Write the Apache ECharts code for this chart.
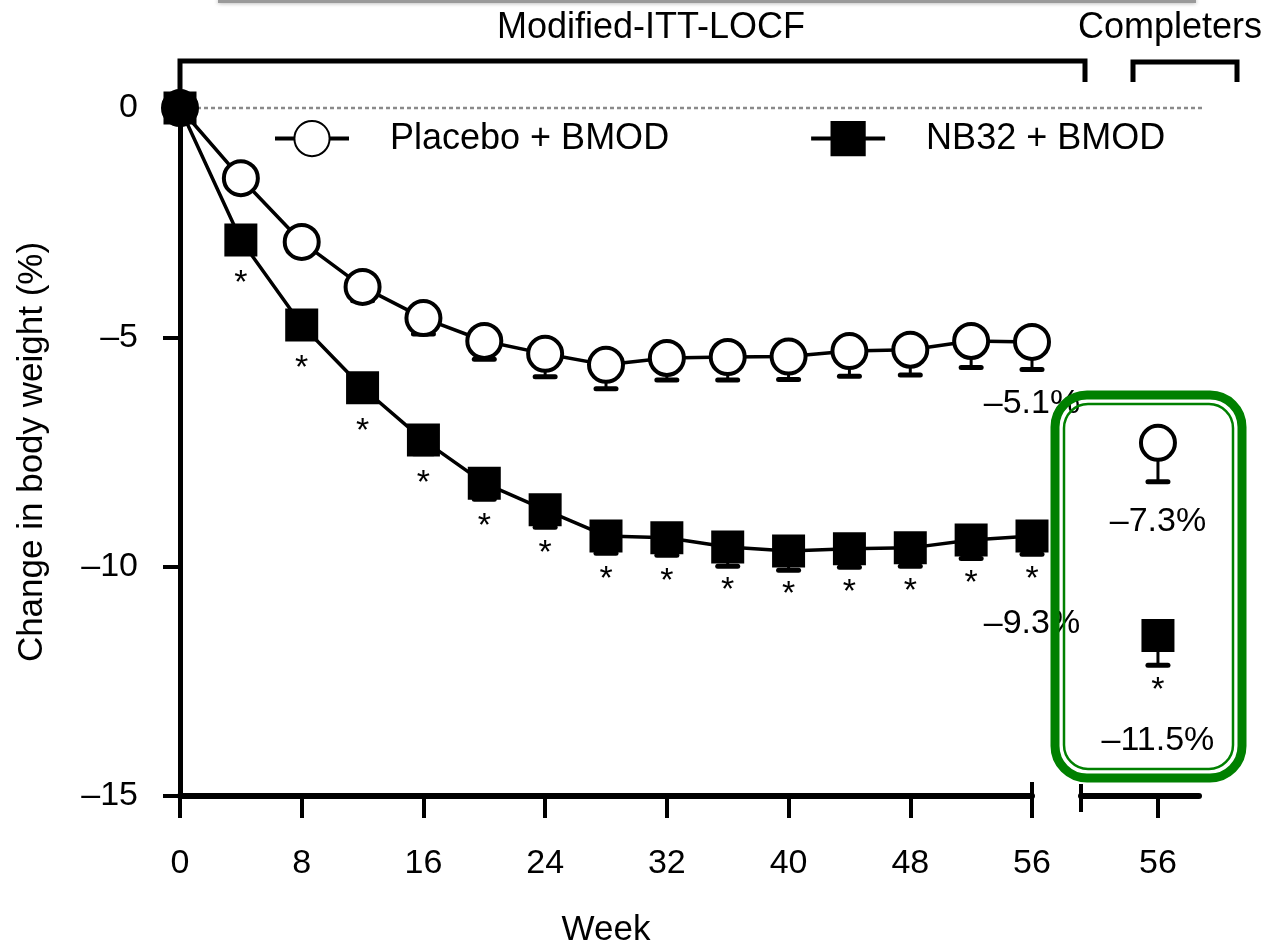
<!DOCTYPE html>
<html><head><meta charset="utf-8">
<script src="https://cdn.jsdelivr.net/npm/echarts@6/dist/echarts.min.js"></script>
<style>html,body{margin:0;padding:0;background:#fff}#c{width:1274px;height:948px}</style>
</head><body><div id="c"></div>
<script>
// ---------- data ----------
const weeks = [0, 4, 8, 12, 16, 20, 24, 28, 32, 36, 40, 44, 48, 52, 56];
const placebo = [0, -1.53, -2.92, -3.90, -4.58, -5.08, -5.36, -5.60, -5.45, -5.43, -5.42, -5.30, -5.27, -5.08, -5.10];
const placeboErr = [0, 0.2, 0.25, 0.3, 0.35, 0.4, 0.5, 0.52, 0.48, 0.5, 0.5, 0.55, 0.55, 0.58, 0.6];
const nb32 = [0, -2.88, -4.73, -6.10, -7.24, -8.18, -8.76, -9.33, -9.37, -9.57, -9.66, -9.61, -9.59, -9.42, -9.33];
const nb32Err = [0, 0.2, 0.25, 0.3, 0.3, 0.35, 0.38, 0.38, 0.38, 0.42, 0.42, 0.4, 0.4, 0.4, 0.4];
const nb32Significant = [false, true, true, true, true, true, true, true, true, true, true, true, true, true, true];
const endLabels = { placebo: '–5.1%', nb32: '–9.3%' };
const completerWeek = 56;
const completerPlacebo = -7.3, completerPlaceboErr = 0.85, completerPlaceboLabel = '–7.3%';
const completerNb32 = -11.5, completerNb32Err = 0.65, completerNb32Label = '–11.5%';
const xTicks = [0, 8, 16, 24, 32, 40, 48, 56];
const yTicks = [-15, -10, -5, 0];
const seriesNames = ['Placebo + BMOD', 'NB32 + BMOD'];
const groupTitles = ['Modified-ITT-LOCF', 'Completers'];

// ---------- style ----------
const FONT = "'Liberation Sans', Arial, Helvetica, sans-serif";
const fmtNeg = v => (v < 0 ? '–' + Math.abs(v) : String(v));
const chart = echarts.init(document.getElementById('c'), null, { renderer: 'canvas' });

const G = { left: 180, top: 108, width: 852, height: 688 };
const G2 = { left: 1081, top: 108, width: 118, height: 688 };

function errSeries(xi, xs, vals, errs) {
  return {
    type: 'custom', xAxisIndex: xi, yAxisIndex: xi, z: 1, silent: true,
    renderItem: (params, api) => {
      const x = api.value(0), y = api.value(1), e = api.value(2);
      if (!e) return { type: 'group', children: [] };
      const p0 = api.coord([x, y]); const p1 = api.coord([x, y - e]);
      return { type: 'group', children: [
        { type: 'line', shape: { x1: p0[0], y1: p0[1], x2: p1[0], y2: p1[1] }, style: { stroke: '#000', lineWidth: 3 } },
        { type: 'line', shape: { x1: p1[0] - 10, y1: p1[1], x2: p1[0] + 10, y2: p1[1] }, style: { stroke: '#000', lineWidth: 5, lineCap: 'round' } }
      ] };
    },
    data: vals.map((v, i) => [xs[i], v, errs[i]])
  };
}

const circleStyle = { color: '#fff', borderColor: '#000', borderWidth: 4, opacity: 1 };
const squareStyle = { color: '#000', borderColor: '#000', borderWidth: 0, opacity: 1 };
const lastIdx = weeks.length - 1;
const richStar = { fontSize: 34, lineHeight: 30, fontFamily: FONT, color: '#000' };

const option = {
  animation: false,
  backgroundColor: '#fff',
  textStyle: { fontFamily: FONT, color: '#000' },
  grid: [
    { left: G.left, top: G.top, width: G.width, height: G.height, outerBoundsMode: 'none', containLabel: false },
    { left: G2.left, top: G2.top, width: G2.width, height: G2.height, outerBoundsMode: 'none', containLabel: false }
  ],
  legend: {
    data: seriesNames, left: 273, top: 120, padding: 0, itemWidth: 74, itemHeight: 44, itemGap: 140,
    textStyle: { fontFamily: FONT, fontSize: 36, color: '#000', padding: [0, 0, 0, 36] },
    lineStyle: { width: 4 },
    selectedMode: false
  },
  xAxis: [
    {
      gridIndex: 0, type: 'value', min: 0, max: 56, interval: 8,
      axisLine: { onZero: false, lineStyle: { color: '#000', width: 6 } },
      axisTick: { length: 22, lineStyle: { color: '#000', width: 4 } },
      axisLabel: { margin: 51, fontSize: 34, color: '#000', fontFamily: FONT },
      splitLine: { show: false },
      name: 'Week', nameLocation: 'middle', nameGap: 117,
      nameTextStyle: { fontSize: 35, color: '#000', fontFamily: FONT }
    },
    {
      gridIndex: 1, type: 'value', min: 48.5, max: 60,
      axisLine: { onZero: false, lineStyle: { color: '#000', width: 6 } },
      axisTick: { length: 22, lineStyle: { color: '#000', width: 4 }, customValues: [completerWeek] },
      axisLabel: { margin: 51, fontSize: 34, color: '#000', fontFamily: FONT, customValues: [completerWeek] },
      splitLine: { show: false }
    }
  ],
  yAxis: [
    {
      gridIndex: 0, type: 'value', min: -15, max: 0, interval: 5,
      axisLine: { onZero: false, lineStyle: { color: '#000', width: 5 } },
      axisTick: { length: 17, lineStyle: { color: '#000', width: 4 } },
      axisLabel: { margin: 42, fontSize: 34, color: '#000', fontFamily: FONT, formatter: fmtNeg },
      splitLine: { show: false },
      name: 'Change in body weight (%)', nameLocation: 'middle', nameGap: 130,
      nameTextStyle: { fontSize: 35, color: '#000', fontFamily: FONT }
    },
    { gridIndex: 1, type: 'value', min: -15, max: 0, show: false }
  ],
  series: [
    errSeries(0, weeks, placebo, placeboErr),
    errSeries(0, weeks, nb32, nb32Err),
    errSeries(1, [completerWeek], [completerPlacebo], [completerPlaceboErr]),
    errSeries(1, [completerWeek], [completerNb32], [completerNb32Err]),
    {
      name: seriesNames[0], type: 'line', xAxisIndex: 0, yAxisIndex: 0, z: 3,
      symbol: 'circle', symbolSize: 34, itemStyle: circleStyle,
      lineStyle: { color: '#000', width: 3.5 },
      data: weeks.map((w, i) => [w, placebo[i]]),
      label: {
        show: true, position: 'bottom', distance: 26, fontSize: 34, color: '#000', fontFamily: FONT,
        formatter: p => (p.dataIndex === lastIdx ? endLabels.placebo : '')
      }
    },
    {
      name: seriesNames[1], type: 'line', xAxisIndex: 0, yAxisIndex: 0, z: 4,
      symbol: 'rect', symbolSize: 33, itemStyle: squareStyle,
      lineStyle: { color: '#000', width: 3.5 },
      data: weeks.map((w, i) => [w, nb32[i]]),
      label: {
        show: true, position: 'bottom', distance: 12, color: '#000', fontFamily: FONT,
        formatter: p => {
          if (!nb32Significant[p.dataIndex]) return '';
          return p.dataIndex === lastIdx ? '{s|*}\n{v|' + endLabels.nb32 + '}' : '{s|*}';
        },
        rich: {
          s: richStar,
          v: { fontSize: 34, lineHeight: 58, fontFamily: FONT, color: '#000' }
        }
      }
    },
    {
      name: 'Completers placebo', type: 'scatter', xAxisIndex: 1, yAxisIndex: 1, z: 3,
      symbol: 'circle', symbolSize: 34, itemStyle: circleStyle,
      data: [[completerWeek, completerPlacebo]],
      label: { show: true, position: 'bottom', distance: 43, fontSize: 34, color: '#000', fontFamily: FONT, opacity: 1,
        formatter: () => completerPlaceboLabel }
    },
    {
      name: 'Completers NB32', type: 'scatter', xAxisIndex: 1, yAxisIndex: 1, z: 4,
      symbol: 'rect', symbolSize: 33, itemStyle: squareStyle,
      data: [[completerWeek, completerNb32]],
      label: { show: true, position: 'bottom', distance: 24, color: '#000', fontFamily: FONT, opacity: 1,
        formatter: () => '{s|*}\n{v|' + completerNb32Label + '}',
        rich: {
          s: richStar,
          v: { fontSize: 34, lineHeight: 70, fontFamily: FONT, color: '#000' }
        } }
    }
  ]
};
chart.setOption(option);

// ---------- decorations (layout only) ----------
const y0 = chart.convertToPixel({ yAxisIndex: 0 }, 0);
const xStart = chart.convertToPixel({ xAxisIndex: 0 }, 0);
const xEnd = chart.convertToPixel({ xAxisIndex: 0 }, 56);
const axisY = chart.convertToPixel({ yAxisIndex: 0 }, -15);
chart.setOption({
  graphic: [
    { type: 'rect', shape: { x: 218, y: 0, width: 978, height: 3 }, style: { fill: '#9a9a9a', shadowBlur: 4, shadowColor: 'rgba(0,0,0,0.4)' }, z: 1 },
    { type: 'text', x: 651, y: 28, style: { text: groupTitles[0], font: '36px ' + FONT, fill: '#000', align: 'center', verticalAlign: 'middle' } },
    { type: 'text', x: 1170, y: 28, style: { text: groupTitles[1], font: '36px ' + FONT, fill: '#000', align: 'center', verticalAlign: 'middle' } },
    { type: 'polyline', shape: { points: [[xStart, y0], [xStart, 61], [1085, 61], [1085, 82]] }, style: { stroke: '#000', lineWidth: 5, fill: null, lineJoin: 'miter' }, z: 5 },
    { type: 'polyline', shape: { points: [[1133, 82], [1133, 62], [1237, 62], [1237, 82]] }, style: { stroke: '#000', lineWidth: 5, fill: null, lineJoin: 'miter' }, z: 5 },
    { type: 'line', shape: { x1: xStart + 10, y1: y0, x2: 1205, y2: y0 }, style: { stroke: '#8a8a8a', lineWidth: 2.5, lineDash: [4, 3] }, z: 0 },
    { type: 'line', shape: { x1: xEnd, y1: axisY - 14, x2: xEnd, y2: axisY }, style: { stroke: '#000', lineWidth: 4 }, z: 5 },
    { type: 'line', shape: { x1: G2.left, y1: axisY - 12, x2: G2.left, y2: axisY + 16 }, style: { stroke: '#000', lineWidth: 4 }, z: 5 },
    { type: 'rect', shape: { x: 1055, y: 395, width: 187, height: 383, r: 32 }, style: { fill: null, stroke: '#008000', lineWidth: 9 }, z: 20 },
    { type: 'rect', shape: { x: 1064, y: 404, width: 169, height: 365, r: 24 }, style: { fill: null, stroke: '#008000', lineWidth: 2.5 }, z: 20 }
  ]
});
</script>
</body></html>
